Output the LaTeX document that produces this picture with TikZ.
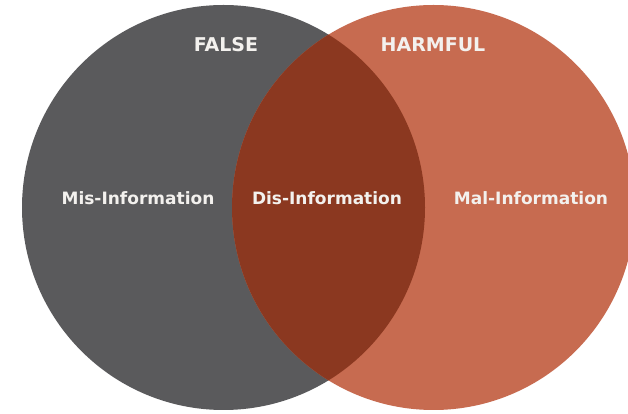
\documentclass[tikz,border=0pt]{standalone}
\usepackage{fontspec}
\setmainfont{DejaVu Sans}
\usetikzlibrary{positioning}
\definecolor{falseGrey}{HTML}{5A5A5C}
\definecolor{harmOrange}{HTML}{C76B50}
\definecolor{overlapRed}{HTML}{8B3820}
\definecolor{labelWhite}{HTML}{F3F1EE}
\tikzset{titleStyle/.style={
    anchor=base,
    text=labelWhite,
    font=\fontsize{19}{22}\selectfont\bfseries},
  infoStyle/.style={
    anchor=base,
    text=labelWhite,
    font=\fontsize{17}{20}\selectfont\bfseries}
}

\begin{document}
\begin{tikzpicture}[x=1pt,y=1pt]
      \useasboundingbox (0,0) rectangle (628,414);
      \fill[color=white] (0,0) rectangle (628,414);

      % the two sets
      \fill[color=falseGrey] (223.5,206.5) ellipse [x radius=201.5, y radius=202.5];
      \fill[color=harmOrange] (433.5,206.5) ellipse [x radius=201.5, y radius=202.5];

      % overlap of both
      \begin{scope}
        \clip (223.5,206.5) ellipse [x radius=201.5, y radius=202.5];
        \fill[color=overlapRed] (433.5,206.5) ellipse [x radius=201.5, y radius=202.5];
      \end{scope}

      \node[titleStyle] (falseLabel) at (226,362) {FALSE};
      \node[titleStyle] (harmfulLabel) at (433,362) {HARMFUL};

      \node[infoStyle] (misInfo) at (138,209) {Mis-Information};
      \node[infoStyle] (disInfo) at (327,209) {Dis-Information};
      \node[infoStyle] (malInfo) at (531,209) {Mal-Information};
\end{tikzpicture}
\end{document}
